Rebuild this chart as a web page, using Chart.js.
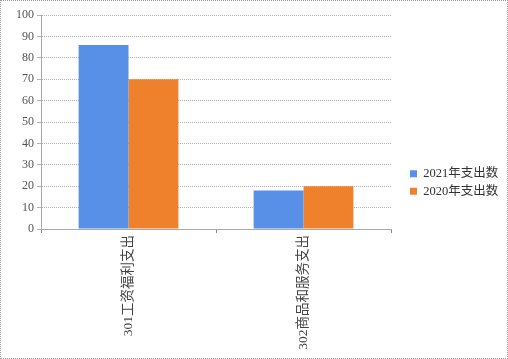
<!DOCTYPE html>
<html><head><meta charset="utf-8">
<script src="https://cdn.jsdelivr.net/npm/chart.js@4/dist/chart.umd.min.js"></script>
<style>
html,body{margin:0;padding:0;background:#fff;}
#wrap{position:relative;width:508px;height:359px;box-sizing:border-box;border:1px dotted #999;}
</style></head><body>
<div id="wrap"><canvas id="c"></canvas></div>
<script>
const categories = ['301工资福利支出', '302商品和服务支出'];
const series2021 = [86, 18];
const series2020 = [70, 20];
const seriesNames = ['2021年支出数', '2020年支出数'];
const yTicks = [0, 10, 20, 30, 40, 50, 60, 70, 80, 90, 100];

const font = "'Liberation Serif', 'Noto Sans CJK SC', serif";

const legendFix = {
  id: 'legendFix',
  beforeLayout(chart) {
    const lg = chart.legend;
    if (lg && !lg._patched) {
      const f = lg.fit.bind(lg);
      lg.fit = function () { f(); this.width = 116; };
      const d = lg.draw.bind(lg);
      lg.draw = function () { const ctx = this.ctx; ctx.save(); ctx.translate(14, -4); d(); ctx.restore(); };
      lg._patched = true;
    }
  }
};

new Chart(document.getElementById('c'), {
  type: 'bar',
  data: {
    labels: categories,
    datasets: [
      {label: seriesNames[0], data: series2021, backgroundColor: '#5790e6', borderWidth: 0, categoryPercentage: 0.57, barPercentage: 1.0},
      {label: seriesNames[1], data: series2020, backgroundColor: '#f0812c', borderWidth: 0, categoryPercentage: 0.57, barPercentage: 1.0}
    ]
  },
  plugins: [legendFix],
  options: {
    responsive: true, maintainAspectRatio: false, animation: false,
    layout: {padding: {top: 14, right: 0, bottom: 0, left: 0}},
    plugins: {
      legend: {
        position: 'right', align: 'center',
        labels: {boxWidth: 7, boxHeight: 7, padding: 5, color: '#333', font: {family: font, size: 12.5}}
      },
      tooltip: {enabled: false}
    },
    scales: {
      x: {
        grid: {drawOnChartArea: false, drawTicks: true, tickLength: 4, color: '#888'},
        border: {color: '#aaa'},
        ticks: {minRotation: 90, maxRotation: 90, color: '#444', padding: 2, font: {family: font, size: 13.5}},
        afterFit: s => { s.height = 129; }
      },
      y: {
        min: 0, max: 100,
        afterBuildTicks: s => { s.ticks = yTicks.map(v => ({value: v})); },
        grid: {color: '#b0b0b0', tickLength: 4},
        border: {color: '#aaa', dash: [1, 1]},
        ticks: {color: '#555', font: {family: font, size: 12}, padding: 3},
        afterFit: s => { s.width = 40; }
      }
    }
  }
});
</script>
</body></html>
